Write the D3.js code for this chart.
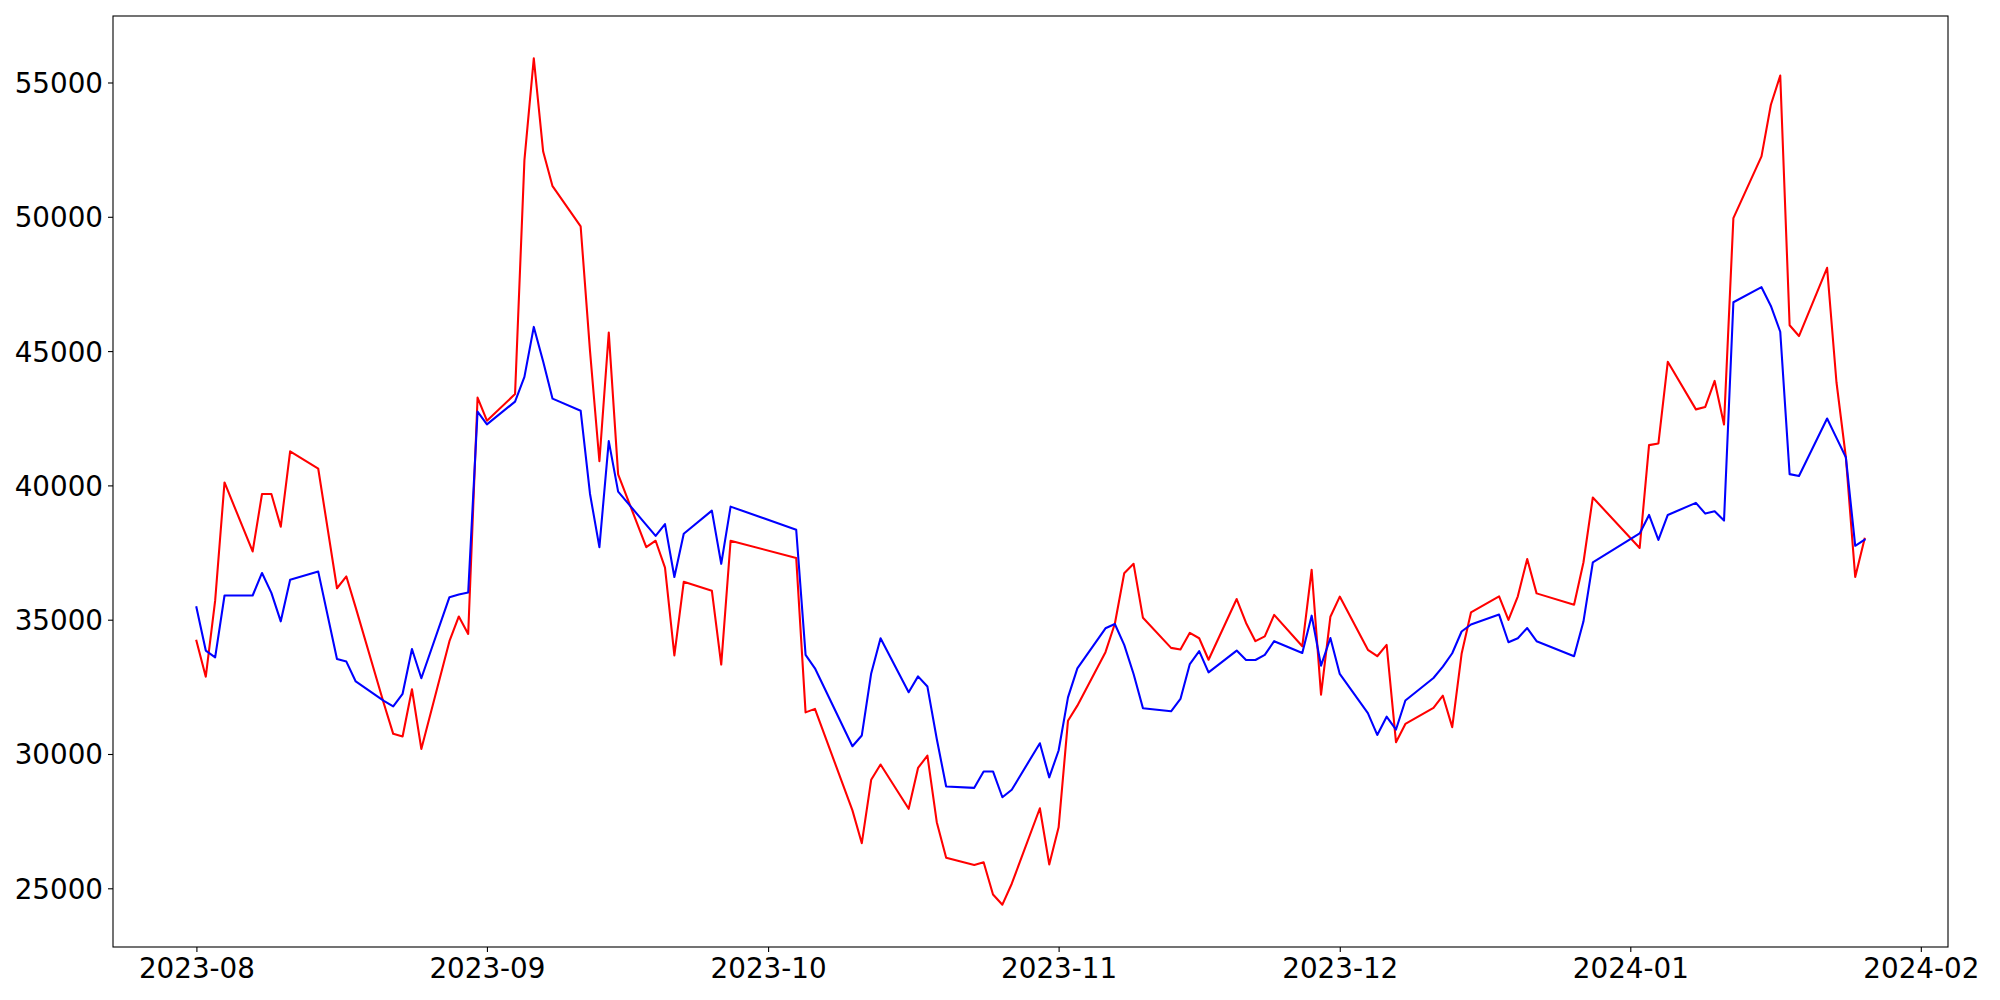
<!DOCTYPE html>
<html>
<head>
<meta charset="utf-8">
<script src="https://cdn.jsdelivr.net/npm/d3@7"></script>
<style>
  html, body { margin: 0; padding: 0; background: #ffffff; }
  svg { display: block; }
  .tick text { font-family: "DejaVu Sans", sans-serif; font-size: 27.78px; fill: #000; }
</style>
</head>
<body>
<svg id="chart" width="2000" height="1000"></svg>
<script>
// Korean trading days, 2023-08-01 .. 2024-01-26
const dates = [
  "2023-08-01","2023-08-02","2023-08-03","2023-08-04","2023-08-07","2023-08-08","2023-08-09","2023-08-10","2023-08-11",
  "2023-08-14","2023-08-16","2023-08-17","2023-08-18","2023-08-21","2023-08-22","2023-08-23","2023-08-24","2023-08-25",
  "2023-08-28","2023-08-29","2023-08-30","2023-08-31","2023-09-01","2023-09-04","2023-09-05","2023-09-06","2023-09-07",
  "2023-09-08","2023-09-11","2023-09-12","2023-09-13","2023-09-14","2023-09-15","2023-09-18","2023-09-19","2023-09-20",
  "2023-09-21","2023-09-22","2023-09-25","2023-09-26","2023-09-27","2023-10-04","2023-10-05","2023-10-06","2023-10-10",
  "2023-10-11","2023-10-12","2023-10-13","2023-10-16","2023-10-17","2023-10-18","2023-10-19","2023-10-20","2023-10-23",
  "2023-10-24","2023-10-25","2023-10-26","2023-10-27","2023-10-30","2023-10-31","2023-11-01","2023-11-02","2023-11-03",
  "2023-11-06","2023-11-07","2023-11-08","2023-11-09","2023-11-10","2023-11-13","2023-11-14","2023-11-15","2023-11-16",
  "2023-11-17","2023-11-20","2023-11-21","2023-11-22","2023-11-23","2023-11-24","2023-11-27","2023-11-28","2023-11-29",
  "2023-11-30","2023-12-01","2023-12-04","2023-12-05","2023-12-06","2023-12-07","2023-12-08","2023-12-11","2023-12-12",
  "2023-12-13","2023-12-14","2023-12-15","2023-12-18","2023-12-19","2023-12-20","2023-12-21","2023-12-22","2023-12-26",
  "2023-12-27","2023-12-28","2024-01-02","2024-01-03","2024-01-04","2024-01-05","2024-01-08","2024-01-09","2024-01-10",
  "2024-01-11","2024-01-12","2024-01-15","2024-01-16","2024-01-17","2024-01-18","2024-01-19","2024-01-22","2024-01-23",
  "2024-01-24","2024-01-25","2024-01-26"
];

const redValues = [
  34220,32880,35710,40110,37540,39680,39680,38460,41270,
  40620,36170,36610,35450,31880,30750,30650,32410,30190,
  34200,35120,34470,43270,42410,43400,52110,55900,52430,
  51140,49640,45000,40900,45690,40410,37700,37940,36940,
  33670,36410,36080,33330,37940,37300,31550,31680,27900,
  26680,29040,29610,27960,29480,29940,27460,26140,25870,
  25970,24770,24390,25170,27980,25890,27270,31240,31800,
  33790,34850,36730,37080,35070,33950,33890,34510,34310,
  33510,35770,34880,34200,34380,35180,34010,36860,32210,
  35110,35860,33880,33640,34060,30440,31120,31720,32170,
  31000,33730,35270,35870,34990,35870,37260,35980,35560,
  37130,39550,37670,41500,41560,44600,42830,42920,43890,
  42270,49950,52250,54170,55260,45960,45560,48100,43840,
  41050,36590,38010
];

const blueValues = [
  35460,33850,33600,35900,35900,36740,36000,34940,36490,
  36790,33540,33440,32700,31980,31770,32240,33910,32820,
  35840,35940,36010,42750,42270,43120,44040,45900,44610,
  43230,42780,39680,37700,41650,39770,38530,38120,38560,
  36590,38200,39060,37080,39210,38350,33690,33190,30290,
  30690,33000,34310,32300,32890,32510,30560,28790,28740,
  29350,29350,28390,28670,30400,29130,30130,32110,33190,
  34680,34840,34060,32980,31700,31590,32050,33350,33830,
  33040,33850,33500,33500,33690,34200,33760,35150,33290,
  34320,32980,31520,30710,31390,30910,31990,32830,33250,
  33750,34560,34820,35190,34160,34310,34690,34200,33640,
  34930,37130,38210,38900,37970,38900,39350,38950,39040,
  38690,46820,47380,46680,45720,40420,40350,42490,41770,
  41050,37750,37980
];

const yTickValues = [25000, 30000, 35000, 40000, 45000, 50000, 55000];
const xTickLabels = ["2023-08","2023-09","2023-10","2023-11","2023-12","2024-01","2024-02"];

const seriesColors = { red: "#ff0000", blue: "#0000ff" };

// ---- layout ----
const W = 2000, H = 1000;
const plot = { left: 113, top: 16, right: 1948, bottom: 947 };

const parse = d3.utcParse("%Y-%m-%d");
const parseMonth = d3.utcParse("%Y-%m");
const dateObjs = dates.map(parse);

// matplotlib-like 5% margins
const tMin = d3.min(dateObjs).getTime(), tMax = d3.max(dateObjs).getTime();
const tPad = (tMax - tMin) * 0.05;
const allVals = redValues.concat(blueValues);
const vMin = d3.min(allVals), vMax = d3.max(allVals);
const vPad = (vMax - vMin) * 0.05;

const x = d3.scaleUtc()
  .domain([new Date(tMin - tPad), new Date(tMax + tPad)])
  .range([plot.left, plot.right]);
const y = d3.scaleLinear()
  .domain([vMin - vPad, vMax + vPad])
  .range([plot.bottom, plot.top]);

const svg = d3.select("#chart");
svg.append("rect").attr("width", W).attr("height", H).attr("fill", "#fff");

const line = d3.line()
  .x(d => x(d.date))
  .y(d => y(d.value));

function seriesData(vals) {
  return dateObjs.map((d, i) => ({ date: d, value: vals[i] })).filter(p => p.value != null);
}

const plotG = svg.append("g");
plotG.append("path")
  .datum(seriesData(redValues))
  .attr("fill", "none")
  .attr("stroke", seriesColors.red)
  .attr("stroke-width", 2.08)
  .attr("stroke-linejoin", "round")
  .attr("stroke-linecap", "square")
  .attr("d", line);
plotG.append("path")
  .datum(seriesData(blueValues))
  .attr("fill", "none")
  .attr("stroke", seriesColors.blue)
  .attr("stroke-width", 2.08)
  .attr("stroke-linejoin", "round")
  .attr("stroke-linecap", "square")
  .attr("d", line);

// axes
const xAxis = d3.axisBottom(x)
  .tickValues(xTickLabels.map(parseMonth))
  .tickFormat(d3.utcFormat("%Y-%m"))
  .tickSize(5)
  .tickPadding(6);
const gx = svg.append("g")
  .attr("transform", `translate(0,${plot.bottom})`)
  .call(xAxis);
gx.select(".domain").remove();
gx.selectAll(".tick line").attr("stroke", "#000").attr("stroke-width", 1.1);
gx.selectAll(".tick text").attr("dy", null).attr("y", 31);

const yAxis = d3.axisLeft(y)
  .tickValues(yTickValues)
  .tickFormat(d3.format("d"))
  .tickSize(5)
  .tickPadding(5);
const gy = svg.append("g")
  .attr("transform", `translate(${plot.left},0)`)
  .call(yAxis);
gy.select(".domain").remove();
gy.selectAll(".tick line").attr("stroke", "#000").attr("stroke-width", 1.1);
gy.selectAll(".tick text").attr("dy", null).attr("y", 10);

// frame
svg.append("rect")
  .attr("x", plot.left)
  .attr("y", plot.top)
  .attr("width", plot.right - plot.left)
  .attr("height", plot.bottom - plot.top)
  .attr("fill", "none")
  .attr("stroke", "#000")
  .attr("stroke-width", 1.1);
</script>
</body>
</html>
